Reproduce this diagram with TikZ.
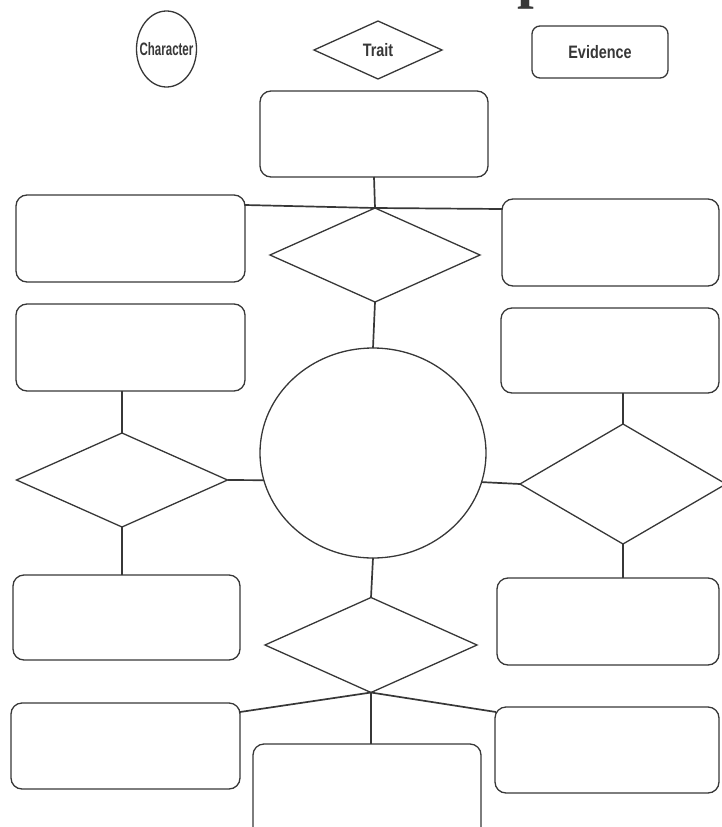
\documentclass[tikz,border=0pt]{standalone}
\usepackage{fontspec}
\setmainfont{Liberation Serif}
\newfontfamily\lblfont[FakeStretch=0.8]{Liberation Sans}
\usetikzlibrary{shapes.geometric,calc}
\definecolor{ink}{RGB}{55,55,55}
\begin{document}
\begin{tikzpicture}[x=1pt,y=-1pt,
  shp/.style={draw=ink, line width=1.3pt, inner sep=0pt, outer sep=0pt},
  rbox/.style={shp, rectangle, rounded corners=11pt},
  dia/.style={shp, diamond},
  circ/.style={shp, ellipse},
  conn/.style={draw=ink, line width=1.7pt},
  lbl/.style={font=\lblfont\bfseries\fontsize{18}{18}\selectfont, text=ink, inner sep=0pt}]
\useasboundingbox (0,0) rectangle (721,827);
% title fragment
\node[anchor=base west, inner sep=0pt, font=\bfseries\fontsize{60}{60}\selectfont, text=ink] (title) at (517,-3) {p};
% legend
\node[circ, minimum width=60pt, minimum height=76pt] (charL) at (166.5,49) {};
\node[lbl] (charT) at (charL.center) {\scalebox{0.8}[1]{Character}};
\node[dia, lbl, minimum width=128pt, minimum height=58pt] (traitL) at (378,50) {Trait};
\node[rbox, lbl, rounded corners=8pt, minimum width=136pt, minimum height=52pt] (evidL) at (600,52) {Evidence};
% boxes
\node[rbox, minimum width=228pt, minimum height=86pt] (T) at (374,134) {};
\node[rbox, minimum width=229pt, minimum height=87pt] (A) at (130.5,238.5) {};
\node[rbox, minimum width=217pt, minimum height=87pt] (C) at (610.5,242.5) {};
\node[rbox, minimum width=229pt, minimum height=87pt] (B) at (130.5,347.5) {};
\node[rbox, minimum width=218pt, minimum height=85pt] (D) at (610,350.5) {};
\node[rbox, minimum width=227pt, minimum height=85pt] (E) at (126.5,617.5) {};
\node[rbox, minimum width=222pt, minimum height=87pt] (H) at (608,621.5) {};
\node[rbox, minimum width=229pt, minimum height=86pt] (F) at (125.5,746) {};
\node[rbox, minimum width=224pt, minimum height=86pt] (I) at (607,750) {};
\node[rbox, minimum width=228pt, minimum height=96pt] (G) at (367,792) {};
% diamonds
\node[dia, minimum width=210pt, minimum height=94pt] (D1) at (375,255) {};
\node[dia, minimum width=211pt, minimum height=94pt] (DL) at (122,480) {};
\node[dia, minimum width=206pt, minimum height=120pt] (DR) at (623,484) {};
\node[dia, minimum width=212pt, minimum height=95pt] (DB) at (371,645) {};
% centre
\node[circ, minimum width=226pt, minimum height=210pt] (M) at (373,453) {};
% connectors
\draw[conn] (T.south) -- (D1.north);
\draw[conn] ($(A.north east)+(0,10)$) -- (D1.north) -- ($(C.north west)+(0,10)$);
\draw[conn] (D1.south) -- (M.north);
\draw[conn] (DL.north |- B.south) -- (DL.north);
\draw[conn] (DL.south) -- (DL.south |- E.north);
\draw[conn] (DL.east) -- (M.194.4);
\draw[conn] (M.345) -- (DR.west);
\draw[conn] (DR.north |- D.south) -- (DR.north);
\draw[conn] (DR.south) -- (DR.south |- H.north);
\draw[conn] (M.south) -- (DB.north);
\draw[conn] (DB.south) -- ($(F.north east)+(0,9)$);
\draw[conn] (DB.south) -- ($(I.north west)+(1,5)$);
\draw[conn] (DB.south) -- (DB.south |- G.north);
\end{tikzpicture}
\end{document}
